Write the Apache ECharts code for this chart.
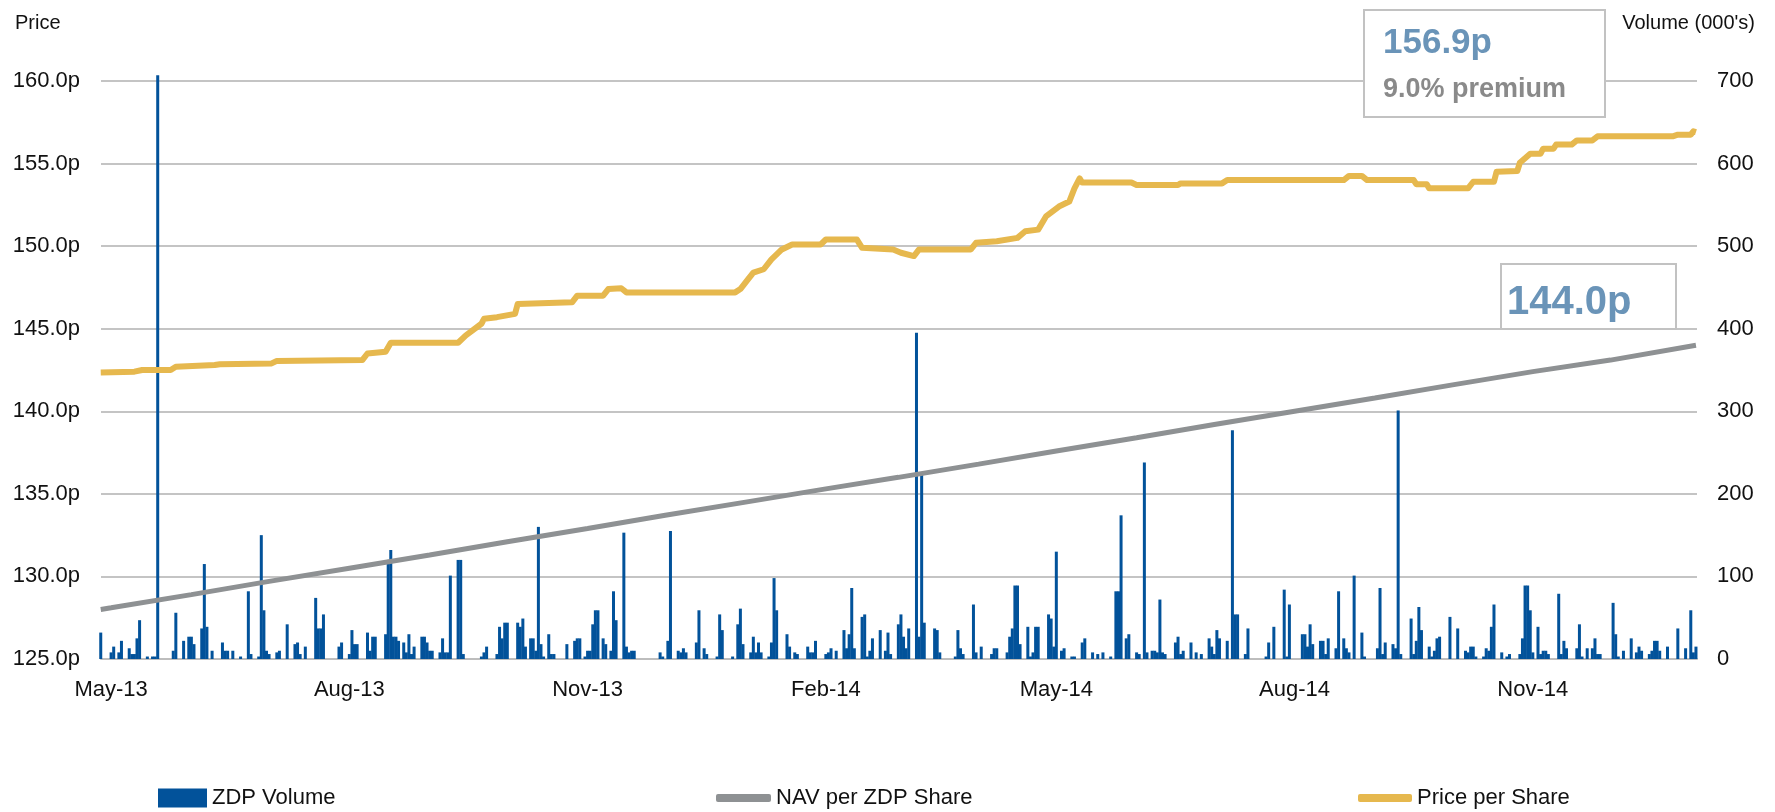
<!DOCTYPE html>
<html>
<head>
    <meta charset="utf-8">
    <title>ZDP price and volume</title>
    <script src="https://cdn.jsdelivr.net/npm/echarts@6/dist/echarts.min.js"></script>
    <style>
        html, body { margin: 0; padding: 0; background: #fff; }
        #main { width: 1775px; height: 812px; }
    </style>
</head>
<body>
<div id="main"></div>
<script type="text/javascript">
    // x is counted in days from 1 May 2013 (day 0)
    var tickDays = [0, 92, 184, 276, 365, 457, 549];
    var tickLabels = ['May-13', 'Aug-13', 'Nov-13', 'Feb-14', 'May-14', 'Aug-14', 'Nov-14'];

    // ZDP volume, [day, thousands]
    var volumeK = [
        [-4,32],[0,8],[1,15],[3,8],[4,22],[7,13],[8,6],[9,6],[10,25],[11,47],[14,3],[16,3],[17,3],[18,707],
        [24,10],[25,56],[28,22],[30,27],[31,27],[32,18],[35,37],[36,115],[37,39],[39,10],[43,20],[44,10],
        [45,10],[47,10],[50,3],[53,82],[54,6],[57,3],[58,150],[59,59],[60,10],[61,6],[64,8],[65,10],[68,42],
        [71,18],[72,20],[73,6],[75,15],[79,74],[80,37],[81,37],[82,54],[88,15],[89,20],[92,6],[93,35],[94,18],
        [95,18],[99,32],[100,10],[101,27],[102,27],[106,30],[107,120],[108,132],[109,27],[110,27],[111,22],
        [113,20],[114,8],[115,30],[116,6],[117,15],[120,27],[121,27],[122,20],[123,10],[124,10],[127,8],
        [128,25],[129,8],[130,8],[131,101],[134,120],[135,120],[136,6],[143,3],[144,8],[145,15],[149,6],[150,39],
        [151,25],[152,44],[153,44],[157,44],[158,39],[159,49],[160,15],[162,25],[163,25],[164,10],[165,160],
        [166,18],[167,3],[169,30],[170,6],[171,6],[176,18],[179,22],[180,25],[181,25],[183,3],[184,10],[185,10],
        [186,42],[187,59],[188,59],[190,25],[191,18],[193,10],[194,82],[195,47],[198,153],[199,15],[200,8],
        [201,10],[202,10],[212,8],[213,3],[215,22],[216,155],[219,10],[220,8],[221,13],[222,8],[226,20],[227,59],
        [229,13],[230,6],[234,3],[235,54],[236,35],[240,3],[242,42],[243,61],[244,18],[247,8],[248,27],[249,8],
        [250,20],[251,8],[254,3],[255,20],[256,98],[257,59],[261,30],[262,15],[264,8],[265,6],[269,15],[270,8],
        [271,8],[272,22],[276,6],[277,8],[278,13],[280,10],[283,35],[284,13],[285,30],[286,86],[287,13],[290,51],
        [291,54],[292,3],[293,10],[294,25],[297,35],[299,10],[300,32],[301,6],[304,42],
        [305,54],[306,27],[307,13],[308,37],[311,395],[312,27],[313,226],[314,44],[318,37],[319,35],[320,8],
        [326,3],[327,35],[328,13],[329,6],[333,66],[334,8],[336,15],[340,6],[341,13],[342,13],[346,8],[347,27],
        [348,37],[349,89],[350,89],[351,18],[354,39],[355,3],[356,8],[357,39],[358,39],[362,54],[363,49],[364,15],
        [365,130],[367,10],[368,13],[371,3],[372,3],[375,20],[376,25],[379,8],[381,6],[383,8],[386,3],[388,82],
        [389,82],[390,174],[392,25],[393,30],[396,8],[397,6],[399,238],[400,8],[402,10],[403,10],[404,8],[405,72],
        [406,8],[407,6],[411,20],[412,27],[413,6],[414,10],[417,20],[419,8],[421,6],[424,25],[425,15],[426,6],
        [427,35],[428,25],[431,22],[433,277],[434,54],[435,54],[438,6],[439,37],[446,3],[447,20],[449,39],[453,84],
        [454,3],[455,66],
        [460,30],[461,30],[462,15],[463,42],[464,18],[467,22],[468,22],[469,6],[470,25],[473,13],[474,82],[476,25],
        [477,13],[478,8],[480,101],[483,32],[484,3],[489,13],[490,86],[491,6],[492,20],[495,18],[496,13],[497,301],
        [498,6],[502,49],[503,6],[504,22],[505,63],[506,35],[509,15],[510,3],[511,10],[512,25],[513,27],[517,51],
        [520,37],[523,10],[524,8],[525,15],[526,15],[527,3],[530,3],[531,13],[532,10],[533,39],[534,66],[537,8],
        [539,3],[540,6],[544,6],[545,25],[546,89],[547,89],[548,59],[549,8],[551,39],[552,6],[553,10],[554,10],
        [555,6],[559,79],[560,6],[561,22],[562,13],[566,13],[567,42],[568,3],[570,13],[572,13],[573,25],[574,6],
        [575,6],[580,68],[581,30],[582,3],[584,10],[587,25],[589,8],[590,15],[591,10],[594,6],[595,10],[596,22],
        [597,22],[598,10],[601,15],[605,37],[608,13],[610,59],[611,8],[612,15]
    ];

    // NAV per ZDP share, [day, pence]
    var navPence = [
        [-4,128.0],[0,128.1],[31,128.9],[61,129.7],[92,130.5],[123,131.3],[153,132.1],[184,132.9],[214,133.7],
        [245,134.5],[276,135.3],[304,136.0],[335,136.8],[365,137.6],[396,138.4],[426,139.2],[457,140.0],
        [488,140.8],[518,141.6],[549,142.4],[579,143.1],[612,144.0]
    ];

    // price per share, [day, pence]
    var pricePence = [
        [-4,142.35],[9,142.4],[12,142.5],[23,142.5],[25,142.7],[40,142.8],[42,142.85],[62,142.9],[64,143.05],
        [97,143.1],[99,143.5],[106,143.6],[108,144.15],[134,144.15],[137,144.6],[143,145.3],[144,145.6],
        [149,145.7],[156,145.9],[157,146.5],[178,146.6],[180,147.0],[190,147.0],[192,147.4],[197,147.45],
        [199,147.2],[241,147.2],[243,147.4],[246,148.0],[248,148.4],[252,148.6],[255,149.2],[259,149.8],
        [263,150.1],[274,150.1],[276,150.4],[288,150.4],[290,149.9],[302,149.8],[305,149.6],[310,149.4],
        [312,149.8],[332,149.8],[334,150.2],[342,150.3],[350,150.5],[353,150.9],[358,151.0],[361,151.8],
        [366,152.4],[370,152.7],[372,153.5],[374,154.1],[375,153.85],[394,153.85],[396,153.7],[412,153.7],
        [413,153.8],[429,153.8],[431,154.0],[476,154.0],[478,154.25],[483,154.25],[485,154.0],[503,154.0],
        [504,153.75],[508,153.75],[509,153.5],[524,153.5],[526,153.9],[534,153.9],[535,154.5],[543,154.55],
        [544,155.05],[548,155.6],[552,155.6],[553,155.9],[557,155.9],[558,156.15],[564,156.15],[566,156.4],
        [572,156.4],[574,156.65],[603,156.65],[605,156.75],[610,156.75],[611,156.95],[612,156.9]
    ];

    var font = 'Liberation Sans, Arial, sans-serif';
    var myChart = echarts.init(document.getElementById('main'));

    var legendText = { fontSize: 22, color: '#111', fontFamily: font };

    var option = {
        animation: false,
        textStyle: { fontFamily: font },
        grid: { left: 101, right: 78, top: 81, bottom: 153 },
        legend: [
            {
                data: ['ZDP Volume'], left: 158, top: 787, padding: 0,
                icon: 'rect', itemWidth: 49, itemHeight: 19,
                textStyle: legendText
            },
            {
                data: ['NAV per ZDP Share'], left: 716, top: 787, padding: 0,
                icon: 'roundRect', itemWidth: 55, itemHeight: 8,
                textStyle: legendText
            },
            {
                data: ['Price per Share'], left: 1358, top: 787, padding: 0,
                icon: 'roundRect', itemWidth: 54, itemHeight: 8,
                textStyle: legendText
            }
        ],
        xAxis: {
            type: 'value',
            min: -3.9,
            max: 612.4,
            axisLine: { show: true, onZero: false, lineStyle: { color: '#bdbdbd', width: 2 } },
            axisTick: { show: false },
            splitLine: { show: false },
            axisLabel: {
                customValues: tickDays,
                fontSize: 22,
                color: '#111',
                margin: 20,
                formatter: function (value) {
                    var i = tickDays.indexOf(Math.round(value));
                    return i >= 0 ? tickLabels[i] : '';
                }
            }
        },
        yAxis: [
            {
                type: 'value',
                min: 125, max: 160, interval: 5,
                axisLine: { show: false },
                axisTick: { show: false },
                splitLine: { lineStyle: { color: '#c4c4c4', width: 2 } },
                axisLabel: {
                    fontSize: 22, color: '#111', margin: 21,
                    formatter: function (v) { return v.toFixed(1) + 'p'; }
                }
            },
            {
                type: 'value',
                min: 0, max: 700, interval: 100,
                position: 'right',
                axisLine: { show: false },
                axisTick: { show: false },
                splitLine: { show: false },
                axisLabel: { fontSize: 22, color: '#111', margin: 20 }
            }
        ],
        series: [
            {
                name: 'ZDP Volume',
                type: 'bar',
                yAxisIndex: 1,
                barWidth: 3,
                clip: false,
                itemStyle: { color: '#02529a' },
                data: volumeK
            },
            {
                name: 'NAV per ZDP Share',
                type: 'line',
                showSymbol: false,
                symbol: 'none',
                itemStyle: { color: '#8e9193' },
                lineStyle: { color: '#8e9193', width: 5 },
                data: navPence
            },
            {
                name: 'Price per Share',
                type: 'line',
                showSymbol: false,
                symbol: 'none',
                itemStyle: { color: '#e6b84e' },
                lineStyle: { color: '#e6b84e', width: 6, join: 'round' },
                data: pricePence
            }
        ],
        graphic: [
            { type: 'text', left: 15, top: 13, style: { text: 'Price', font: '20px ' + font, fill: '#111' } },
            { type: 'text', right: 20, top: 13, style: { text: "Volume (000's)", font: '20px ' + font, fill: '#111' } },
            {
                type: 'rect', left: 1363, top: 9, z: 100,
                shape: { width: 241, height: 107 },
                style: { fill: '#fff', stroke: '#c2c2c2', lineWidth: 2 }
            },
            {
                type: 'text', left: 1383, top: 26, z: 101,
                style: { text: '156.9p', font: 'bold 35px ' + font, fill: '#6a94b8' }
            },
            {
                type: 'text', left: 1383, top: 76, z: 101,
                style: { text: '9.0% premium', font: 'bold 27px ' + font, fill: '#8a8a8a' }
            },
            {
                type: 'rect', left: 1500, top: 263, z: 100,
                shape: { width: 175, height: 65 },
                style: { fill: '#fff', stroke: '#c2c2c2', lineWidth: 2 }
            },
            {
                type: 'text', left: 1507, top: 283, z: 101,
                style: { text: '144.0p', font: 'bold 40px ' + font, fill: '#6a94b8' }
            }
        ]
    };
    myChart.setOption(option);
</script>
</body>
</html>
